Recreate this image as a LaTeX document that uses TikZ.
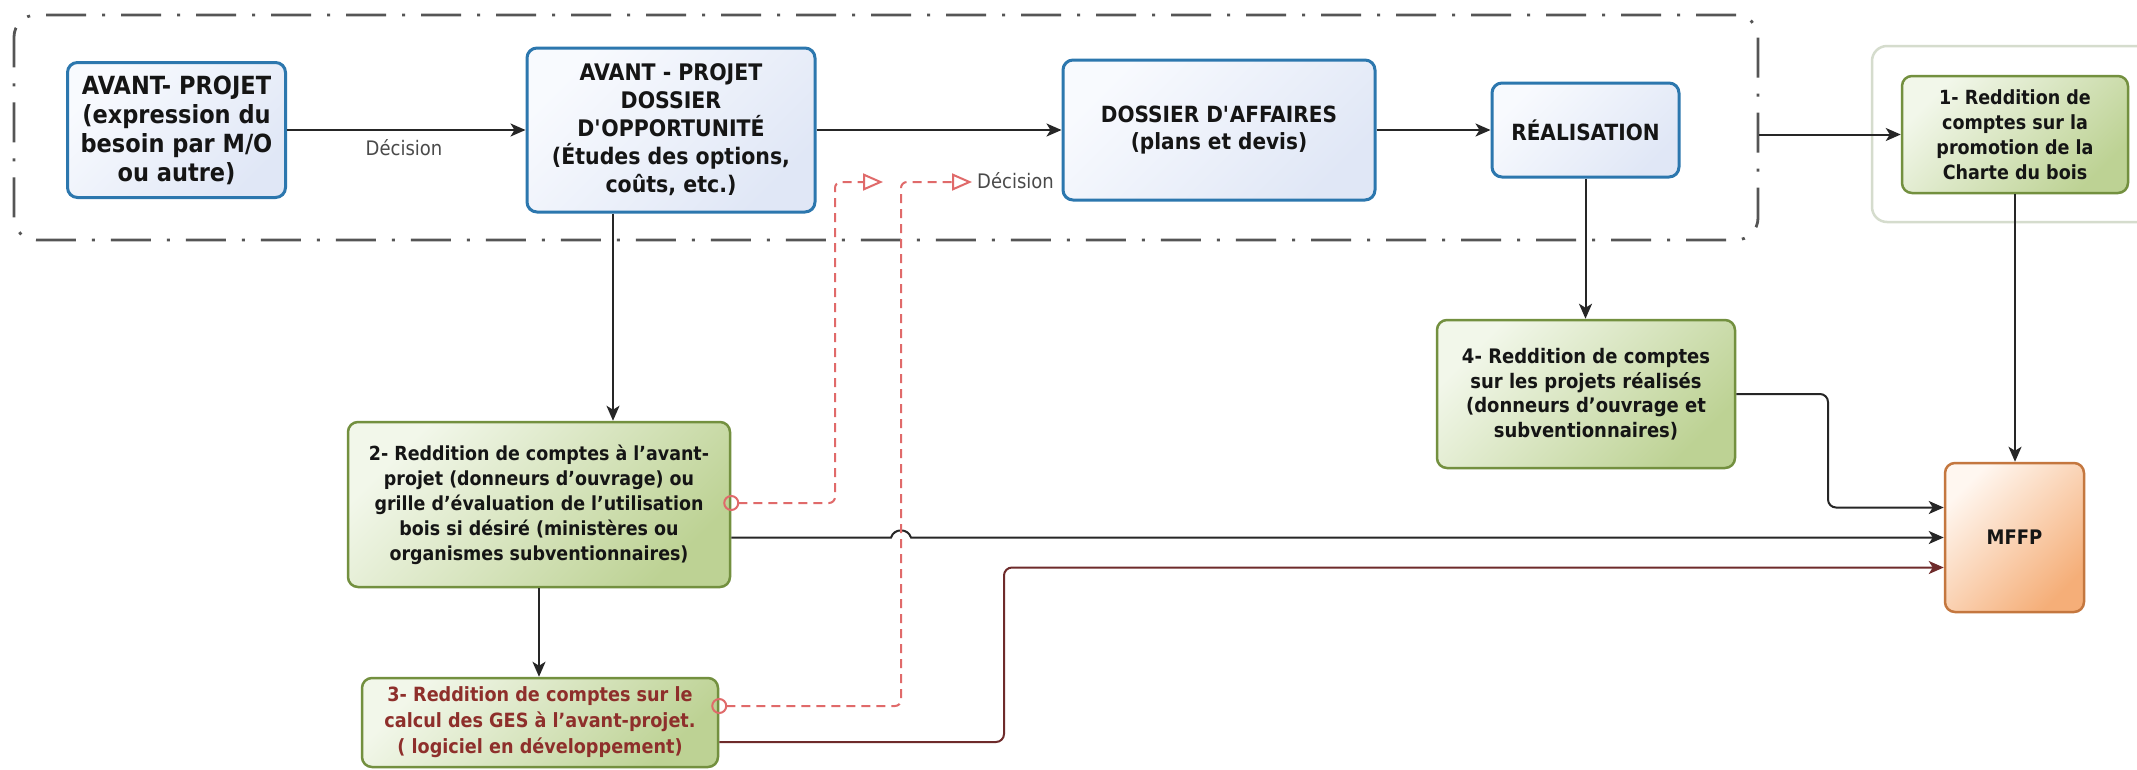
\documentclass[tikz,border=0pt]{standalone}
\usepackage{fontspec}
\setmainfont{DejaVu Sans}[FakeStretch=0.9]
\usetikzlibrary{arrows.meta,calc}
\definecolor{bluebd}{HTML}{2C77AE}
\definecolor{bluelt}{HTML}{F8FAFE}
\definecolor{bluedk}{HTML}{E0E7F6}
\definecolor{greenbd}{HTML}{73903F}
\definecolor{greenlt}{HTML}{F2F7EA}
\definecolor{greendk}{HTML}{BDD294}
\definecolor{orbd}{HTML}{C4773F}
\definecolor{orlt}{HTML}{FFF7F0}
\definecolor{ordk}{HTML}{F5AE78}
\definecolor{redtxt}{HTML}{8E2F2B}
\definecolor{brownln}{HTML}{6E2B2B}
\definecolor{reddash}{HTML}{E06A6A}
\definecolor{framegray}{HTML}{555555}
\definecolor{lblgray}{HTML}{4A4A4A}
\definecolor{outerfr}{HTML}{D5DCCD}
\definecolor{txt}{HTML}{151515}
\tikzset{
  bluebox/.style={draw=bluebd, line width=3pt, rounded corners=10pt,
    top color=bluelt, bottom color=bluedk, shading angle=45,
    align=center, inner sep=0pt, text=txt},
  greenbox/.style={draw=greenbd, line width=2.5pt, rounded corners=10pt,
    top color=greenlt, bottom color=greendk, shading angle=45,
    align=center, inner sep=0pt, text=txt},
  orbox/.style={draw=orbd, line width=2.5pt, rounded corners=10pt,
    top color=orlt, bottom color=ordk, shading angle=45,
    align=center, inner sep=0pt, text=txt},
  arr/.style={draw=black!85, line width=2pt, -{Stealth[length=15pt,width=13pt,inset=4pt]}},
  brarr/.style={draw=brownln, line width=2pt, -{Stealth[length=15pt,width=13pt,inset=4pt]}},
  rarr/.style={draw=reddash, line width=2pt, dash pattern=on 9pt off 6pt,
    {Circle[open,length=16pt,width=16pt]}-{Triangle[open,length=20pt,width=17pt]}, rounded corners=6pt},
  lbl/.style={font=\fontsize{20}{24}\selectfont, text=lblgray, inner sep=0pt},
}
\begin{document}
\begin{tikzpicture}[x=1pt,y=-1pt]
\clip (0,0) rectangle (2137,769);
\fill[white] (0,0) rectangle (2137,769);
% container frames
\node[draw=framegray, line width=2.8pt, dash pattern=on 40pt off 16pt on 3pt off 16pt,
  rounded corners=22pt, minimum width=1744pt, minimum height=225pt, inner sep=0pt] (proc) at (886,127.5) {};
\node[draw=outerfr, line width=2.5pt, rounded corners=15pt, minimum width=300pt,
  minimum height=176pt, inner sep=0pt] (b1frame) at (2022,134) {};
% top row
\node[bluebox, minimum width=218pt, minimum height=135pt,
  font=\bfseries\fontsize{25}{29}\selectfont] (a1) at (176.5,130)
  {AVANT- PROJET\\(expression du\\besoin par M/O\\ou autre)};
\node[bluebox, minimum width=288pt, minimum height=164pt,
  font=\bfseries\fontsize{22.8}{28}\selectfont] (a2) at (671,130)
  {AVANT - PROJET\\DOSSIER\\D\textquotesingle OPPORTUNITÉ\\(Études des options,\\coûts, etc.)};
\node[bluebox, minimum width=312pt, minimum height=140pt,
  font=\bfseries\fontsize{22.3}{27}\selectfont] (a3) at (1219,130)
  {DOSSIER D\textquotesingle AFFAIRES\\(plans et devis)};
\node[bluebox, minimum width=187pt, minimum height=94pt,
  font=\bfseries\fontsize{22.3}{27}\selectfont] (a4) at (1585.5,130)
  {RÉALISATION};
\node[greenbox, minimum width=226pt, minimum height=117pt,
  font=\bfseries\fontsize{19.5}{25}\selectfont] (b1) at (2015,134.5)
  {1- Reddition de\\comptes sur la\\promotion de la\\Charte du bois};
% lower boxes
\node[greenbox, minimum width=382pt, minimum height=165pt,
  font=\bfseries\fontsize{19.4}{25}\selectfont] (b2) at (539,504.5)
  {2- Reddition de comptes à l’avant-\\projet (donneurs d’ouvrage) ou\\grille d’évaluation de l’utilisation\\bois si désiré (ministères ou\\organismes subventionnaires)};
\node[greenbox, minimum width=356pt, minimum height=89pt, text=redtxt,
  font=\bfseries\fontsize{19.6}{26}\selectfont] (b3) at (540,722.5)
  {3- Reddition de comptes sur le\\calcul des GES à l’avant-projet.\\( logiciel en développement)};
\node[greenbox, minimum width=298pt, minimum height=148pt,
  font=\bfseries\fontsize{20}{24.5}\selectfont] (b4) at (1586,394)
  {4- Reddition de comptes\\sur les projets réalisés\\(donneurs d’ouvrage et\\subventionnaires)};
\node[orbox, minimum width=139pt, minimum height=149pt,
  font=\bfseries\fontsize{20}{24}\selectfont] (mffp) at (2014.5,537.5) {MFFP};
% labels
\node[lbl] (dec1) at (404,148) {Décision};
\node[lbl, anchor=west] (dec2) at (977,181) {Décision};
% coordinates
\coordinate (a2b) at ($(a2.south)+(-58,0)$);
\coordinate (r1) at (835,182);
\coordinate (r1t) at (883,182);
\coordinate (r2) at (901,182);
\coordinate (r2t) at (972,182);
\coordinate (h1) at (891,537.5);
\coordinate (h2) at (911,537.5);
\coordinate (bj) at (1828,507.5);
\coordinate (bk) at (1004,567.5);
% black connectors
\draw[arr] (a1.east) -- (a2.west);
\draw[arr] (a2.east |- a3.west) -- (a3.west);
\draw[arr] (a3.east) -- (a4.west);
\draw[arr] (proc.east |- b1.west) -- (b1.west);
\draw[arr] (a2b) -- (a2b |- b2.north);
\draw[arr] (b2.south) -- (b2.south |- b3.north);
\draw[arr] (a4.south) -- (a4.south |- b4.north);
\draw[arr] (b1.south) -- (b1.south |- mffp.north);
\draw[arr, rounded corners=8pt] (b4.east) -| (bj) -- (bj -| mffp.west);
\draw[arr] (b2.east |- mffp.west) -- (h1) .. controls (894,528) and (908,528) .. (h2) -- (mffp.west);
\draw[brarr, rounded corners=8pt] ($(b3.east)+(0,19.5)$) -| (bk) -- (bk -| mffp.west);
% red dashed connectors
\draw[rarr] ($(b2.east)+(-8,-1.5)$) -| (r1) -- (r1t);
\draw[rarr] ($(b3.east)+(-8,-16.5)$) -| (r2) -- (r2t);
\end{tikzpicture}
\end{document}
